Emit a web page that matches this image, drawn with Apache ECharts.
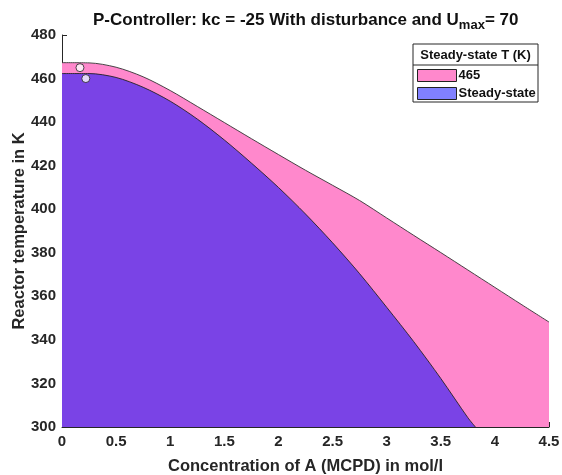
<!DOCTYPE html>
<html>
<head>
<meta charset="utf-8">
<script src="https://cdn.jsdelivr.net/npm/echarts@6/dist/echarts.min.js"></script>
<style>html,body{margin:0;padding:0;background:#fff}#c{width:562px;height:475px}</style>
</head>
<body>
<div id="c"></div>
<script>
// Upper curve (Steady-state T = 465 band)
const upperX = [0, 0.25, 0.5, 0.75, 1.0, 1.25, 1.5, 1.75, 2.0, 2.25, 2.5, 2.75, 3.0, 3.25, 3.5, 3.75, 4.0, 4.25, 4.5];
const upperT = [467.3, 467.2, 465.2, 460.8, 454.5, 447.2, 439.8, 432.4, 425.1, 417.9, 411.0, 404.0, 396.0, 388.0, 380.1, 372.1, 364.1, 356.1, 348.2];
// Lower curve (steady-state)
const lowerX = [0, 0.25, 0.5, 0.75, 1.0, 1.25, 1.5, 1.75, 2.0, 2.25, 2.5, 2.75, 3.0, 3.25, 3.5, 3.75, 3.82];
const lowerT = [462.3, 462.3, 460.5, 456.0, 449.6, 441.4, 431.8, 421.2, 410.0, 397.8, 384.6, 370.4, 355.0, 339.2, 322.3, 304.3, 300.0];
// Marker points
const pointX = [0.166, 0.22];
const pointT = [465, 460];
const seriesNames = ['465', 'Steady-state'];
const xTicks = [0, 0.5, 1, 1.5, 2, 2.5, 3, 3.5, 4, 4.5];
const yTicks = [300, 320, 340, 360, 380, 400, 420, 440, 460, 480];

const zip = (xs, ys) => xs.map((x, i) => [x, ys[i]]);
const chart = echarts.init(document.getElementById('c'), null, {renderer: 'canvas'});
const txt = '#262626';
const font = 'Liberation Sans, Arial, Helvetica, sans-serif';
chart.setOption({
  animation: false,
  textStyle: {fontFamily: font},
  title: {
    left: 88, top: 4,
    text: '{a|P-Controller: kc = -25 With disturbance and U}{b|max}{a|= 70}',
    textStyle: {
      rich: {
        a: {fontSize: 17, fontWeight: 'bold', color: '#111', fontFamily: font},
        b: {fontSize: 13, fontWeight: 'bold', color: '#111', fontFamily: font, padding: [10, 0, 0, 0]}
      }
    }
  },
  grid: {left: 62, right: 13, top: 35, bottom: 48, containLabel: false, outerBoundsMode: 'none'},
  xAxis: {
    type: 'value', min: 0, max: 4.5, interval: 0.5,
    name: 'Concentration of A (MCPD) in mol/l', nameLocation: 'middle', nameGap: 31, nameMoveOverlap: false,
    nameTextStyle: {fontSize: 16.5, fontWeight: 'bold', color: txt},
    axisLine: {show: true, lineStyle: {color: txt, width: 1}},
    axisTick: {show: true, inside: true, length: 5, lineStyle: {color: txt}},
    axisLabel: {fontSize: 15, fontWeight: 'bold', color: txt, margin: 7,
      formatter: v => xTicks.includes(v) ? String(v) : ''},
    splitLine: {show: false}
  },
  yAxis: {
    type: 'value', min: 300, max: 480, interval: 20,
    name: 'Reactor temperature in K', nameLocation: 'middle', nameGap: 34, nameMoveOverlap: false,
    nameTextStyle: {fontSize: 16.5, fontWeight: 'bold', color: txt},
    axisLine: {show: true, lineStyle: {color: txt, width: 1}},
    axisTick: {show: true, inside: true, length: 5, lineStyle: {color: txt}},
    axisLabel: {fontSize: 15, fontWeight: 'bold', color: txt, margin: 6,
      formatter: v => yTicks.includes(v) ? String(v) : ''},
    splitLine: {show: false}
  },
  legend: {
    orient: 'vertical', left: 417, top: 69, padding: 0, itemWidth: 39, itemGap: 5, itemHeight: 12,
    textStyle: {fontSize: 13, fontWeight: 'bold', color: '#111', padding: [0, 0, 0, -3]},
    z: 20,
    data: [
      {name: seriesNames[0], icon: 'rect', itemStyle: {color: '#ff88cc', borderColor: '#222', borderWidth: 1}},
      {name: seriesNames[1], icon: 'rect', itemStyle: {color: '#8080ff', borderColor: '#222', borderWidth: 1}}
    ]
  },
  graphic: [
    {type: 'rect', z: 5, shape: {x: 413, y: 44, width: 125, height: 58},
     style: {fill: '#fff', stroke: txt, lineWidth: 1}},
    {type: 'line', z: 6, shape: {x1: 413, y1: 65, x2: 538, y2: 65}, style: {stroke: txt, lineWidth: 1}},
    {type: 'text', z: 6, x: 475.5, y: 55,
     style: {text: 'Steady-state T (K)', fill: '#111', font: 'bold 13px ' + font, textAlign: 'center', textVerticalAlign: 'middle'}}
  ],
  series: [
    {
      name: seriesNames[0], type: 'line', data: zip(upperX, upperT), smooth: 0.3,
      showSymbol: false, symbol: 'none', z: 2,
      lineStyle: {color: '#333', width: 0.9},
      areaStyle: {color: '#ff88cc', opacity: 1, origin: 'start'}
    },
    {
      name: seriesNames[1], type: 'line', data: zip(lowerX, lowerT), smooth: 0.3,
      showSymbol: false, symbol: 'none', z: 3,
      lineStyle: {color: '#222', width: 0.9},
      areaStyle: {color: '#7a43e6', opacity: 1, origin: 'start'}
    },
    {
      name: 'points', type: 'scatter', data: zip(pointX, pointT), z: 5,
      symbolSize: 8, itemStyle: {color: '#ffffff', borderColor: '#222', borderWidth: 1}
    }
  ]
});
</script>
</body>
</html>
